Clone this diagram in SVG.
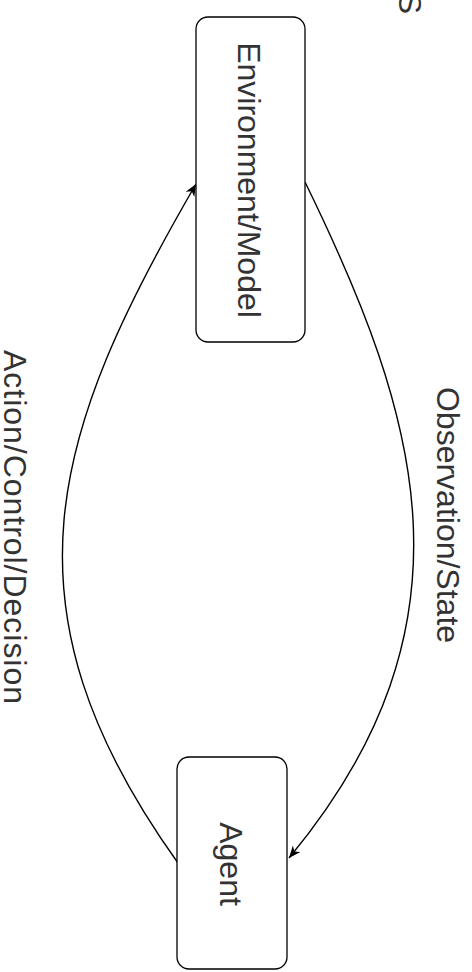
<svg xmlns="http://www.w3.org/2000/svg" width="472" height="972" viewBox="0 0 472 972">
  <style>
    .box { fill: #ffffff; stroke: #000000; stroke-width: 1.3; }
    .lbl { font-family: "Liberation Sans", Arial, sans-serif; font-size: 32px; fill: #333333; text-anchor: middle; }
    .edge { fill: none; stroke: #000000; stroke-width: 1.4; marker-end: url(#arrow); }
  </style>
  <defs>
    <marker id="arrow" markerWidth="14" markerHeight="11" refX="12" refY="5" orient="auto" markerUnits="userSpaceOnUse">
      <path d="M0,0 L12,5 L0,10 L3.5,5 z" fill="#000000"/>
    </marker>
  </defs>
  <rect width="472" height="972" fill="#ffffff"/>
  <g id="title-fragment">
    <text class="lbl" transform="translate(399,14) rotate(90)" style="text-anchor:end">S</text>
  </g>
  <g id="connectors">
    <path id="obs-edge" class="edge" d="M305,182 C419.6,416.4 483.8,623.6 289,858"/>
    <path id="act-edge" class="edge" d="M178,863 C-6,606 52,432 196,184"/>
  </g>
  <g id="env">
    <rect class="box" x="196" y="17" width="109" height="325" rx="12" ry="12"/>
    <text class="lbl" transform="translate(238,180) rotate(90)">Environment/Model</text>
  </g>
  <g id="agent">
    <rect class="box" x="177" y="757" width="110" height="212" rx="12" ry="12"/>
    <text class="lbl" transform="translate(220,864) rotate(90)">Agent</text>
  </g>
  <g id="obs-label">
    <text class="lbl" transform="translate(437,515) rotate(90)">Observation/State</text>
  </g>
  <g id="act-label">
    <text class="lbl" transform="translate(4,527) rotate(90)" textLength="354" lengthAdjust="spacing">Action/Control/Decision</text>
  </g>
</svg>
